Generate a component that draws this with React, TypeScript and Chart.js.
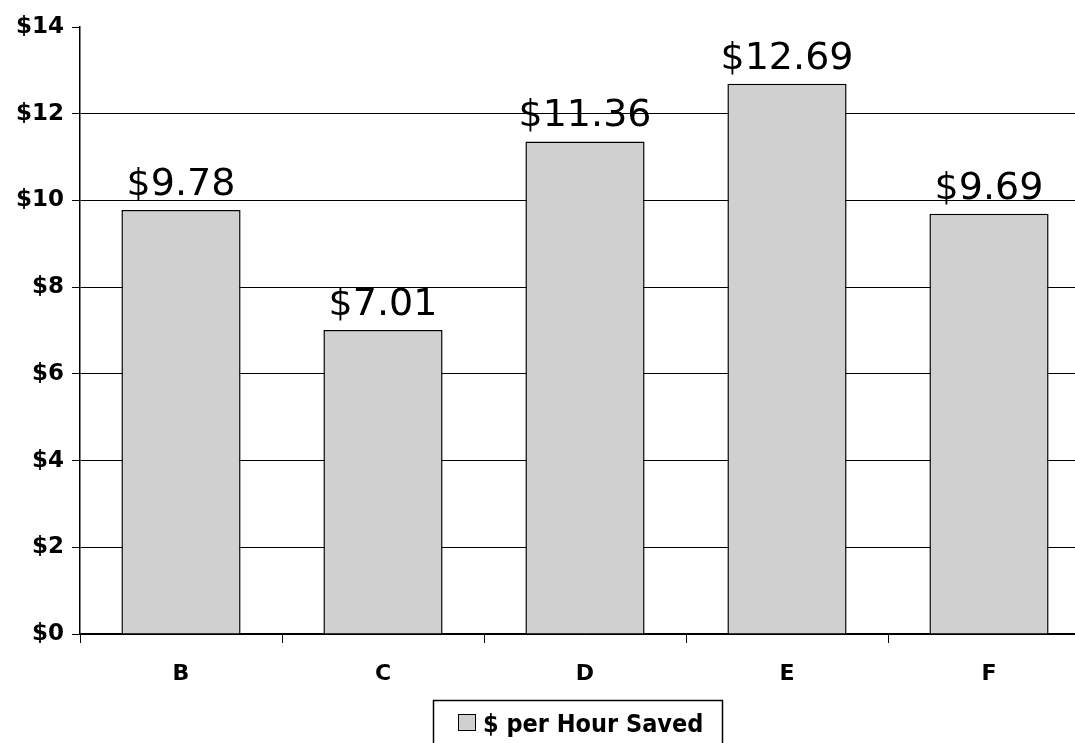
import React, { useEffect, useRef } from "react";
import { Chart, registerables } from "chart.js";

Chart.register(...registerables);

const categories = ["B", "C", "D", "E", "F"];
const values = [9.78, 7.01, 11.36, 12.69, 9.69];
const valueLabels = ["$9.78", "$7.01", "$11.36", "$12.69", "$9.69"];
const seriesName = "$ per Hour Saved";

const labelPlugin = {
  id: "valueLabels",
  afterDatasetsDraw(chart: any) {
    const ctx = chart.ctx;
    const meta = chart.getDatasetMeta(0);
    ctx.save();
    ctx.font = "38px 'DejaVu Sans'";
    ctx.fillStyle = "#000";
    ctx.textAlign = "center";
    ctx.textBaseline = "alphabetic";
    meta.data.forEach((bar: any, i: number) => {
      ctx.fillText(valueLabels[i], bar.x, bar.y - 15);
    });
    ctx.restore();
  },
};

const legendPlugin = {
  id: "boxLegend",
  afterDraw(chart: any) {
    const ctx = chart.ctx;
    ctx.save();
    ctx.strokeStyle = "#000";
    ctx.lineWidth = 1.5;
    ctx.beginPath();
    ctx.moveTo(433.5, 760);
    ctx.lineTo(433.5, 700.5);
    ctx.lineTo(722.5, 700.5);
    ctx.lineTo(722.5, 760);
    ctx.stroke();
    ctx.fillStyle = "#d0d0d0";
    ctx.fillRect(458, 714, 18, 17);
    ctx.lineWidth = 1;
    ctx.strokeRect(458.5, 714.5, 17, 16);
    ctx.fillStyle = "#000";
    ctx.font = "bold 25px 'DejaVu Sans Condensed'";
    ctx.textAlign = "left";
    ctx.textBaseline = "alphabetic";
    ctx.fillText(seriesName, 483, 732);
    ctx.restore();
  },
};

export default function App() {
  const ref = useRef<HTMLCanvasElement>(null);
  useEffect(() => {
    const chart = new Chart(ref.current!, {
      type: "bar",
      data: {
        labels: categories,
        datasets: [
          {
            label: seriesName,
            data: values,
            backgroundColor: "#d0d0d0",
            borderColor: "#000",
            borderWidth: 1.5,
            barPercentage: 0.59,
            categoryPercentage: 1,
          },
        ],
      },
      options: {
        animation: false,
        responsive: false,
        maintainAspectRatio: false,
        layout: { padding: { top: 27, right: 0, bottom: 0, left: 0 } },
        plugins: { legend: { display: false }, tooltip: { enabled: false } },
        scales: {
          x: {
            offset: true,
            grid: {
              display: true,
              offset: true,
              drawOnChartArea: false,
              drawTicks: true,
              tickLength: 9,
              color: "#000",
              lineWidth: 1,
            },
            border: { display: true, color: "#000", width: 1.5 },
            ticks: {
              color: "#000",
              font: { family: "'DejaVu Sans'", weight: "bold", size: 22 },
              padding: 18,
            },
            afterFit: (s: any) => {
              s.height = 109;
            },
          },
          y: {
            min: 0,
            max: 14,
            ticks: {
              stepSize: 2,
              color: "#000",
              font: { family: "'DejaVu Sans'", weight: "bold", size: 23 },
              padding: 8,
              callback: (v: any) => "$" + v,
            },
            grid: {
              color: (c: any) => (c.tick && c.tick.value === 14 ? "rgba(0,0,0,0)" : "#000"),
              tickColor: "#000",
              lineWidth: 1,
              drawTicks: true,
              tickLength: 8,
            },
            border: { display: true, color: "#000", width: 1.5 },
            afterFit: (s: any) => {
              s.width = 80;
            },
          },
        },
      },
      plugins: [labelPlugin, legendPlugin],
    });
    return () => chart.destroy();
  }, []);
  return (
    <div style={{ position: "absolute", left: 0, top: 0, width: 1075, height: 743, overflow: "hidden", background: "#fff" }}>
      <canvas ref={ref} width={1090} height={743} style={{ display: "block" }} />
    </div>
  );
}
